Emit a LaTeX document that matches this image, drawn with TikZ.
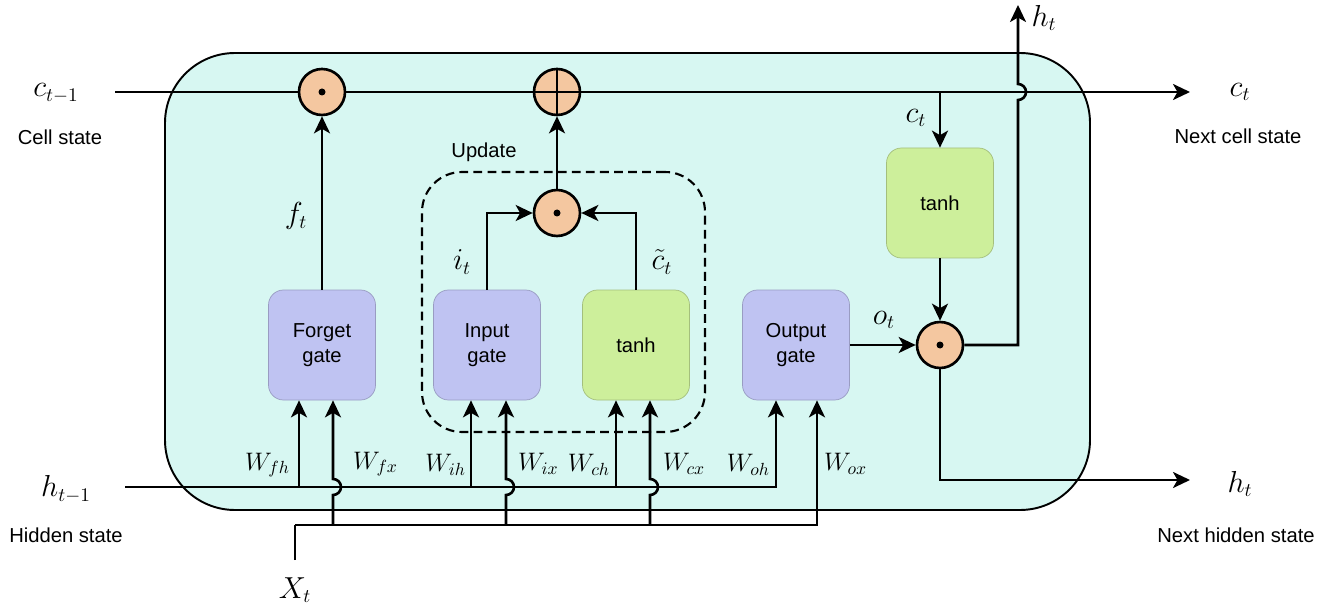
\documentclass[tikz,border=0pt]{standalone}
\usepackage{tikz}
\usetikzlibrary{arrows.meta, positioning}
\usepackage{fontspec}
\setmainfont{Liberation Sans}
\usepackage{xcolor}

\definecolor{cellfill}{HTML}{D7F7F2}
\definecolor{gatefill}{HTML}{BFC3F2}
\definecolor{tanhfill}{HTML}{CDEF9B}
\definecolor{opfill}{HTML}{F4C7A0}

\begin{document}
\begin{tikzpicture}[
    gate/.style={
        draw=gatefill!80!black,
        rectangle,
        rounded corners=0.3cm,
        minimum width=2.14cm,
        minimum height=2.2cm,
        fill=gatefill,
        align=center,
        font=\fontsize{11.5}{14}\selectfont
    },
    tanhbox/.style={
        gate,
        draw=tanhfill!80!black,
        fill=tanhfill
    },
    op/.style={
        circle,
        draw,
        line width=1.5pt,
        fill=opfill,
        minimum size=0.92cm
    },
    dotop/.style={
        op,
        path picture={\fill[black] (path picture bounding box.center) circle (0.07);}
    },
    plusop/.style={
        op,
        path picture={
            \draw[black, line width=1.5pt] (path picture bounding box.north) -- (path picture bounding box.south);
            \draw[black, line width=1.5pt] (path picture bounding box.west) -- (path picture bounding box.east);
        }
    },
    arrow/.style={
        -{Stealth[length=0.34cm, width=0.32cm, inset=0.09cm]},
        line width=1.5pt
    },
    line/.style={
        line width=1.5pt
    },
    lbl/.style={font=\fontsize{16}{19}\selectfont},
    wlbl/.style={font=\fontsize{14}{17}\selectfont, inner sep=1pt},
    txt/.style={font=\fontsize{11.5}{14}\selectfont},
    node distance=1cm and 0.9cm
]
\useasboundingbox (0,0) rectangle (26.64,12.26);

% Cell body
\draw[fill=cellfill, line width=1.1pt, rounded corners=1.4cm] (3.3,2.06) rectangle (21.8,11.2);
\node[draw, dashed, line width=1.2pt, dash pattern=on 5pt off 3pt, rounded corners=0.8cm,
      minimum width=5.66cm, minimum height=5.2cm] (update) at (11.27,6.22) {};
\node[txt] (updlbl) at (9.68,9.22) {Update};

% Gates
\node[gate] (forget) at (6.44,5.36) {Forget\\gate};
\node[gate] (ingate) at (9.74,5.36) {Input\\gate};
\node[tanhbox] (tanhin) at (12.72,5.36) {tanh};
\node[gate] (outgate) at (15.92,5.36) {Output\\gate};
\node[tanhbox] (tanhout) at (18.8,8.2) {tanh};

% Pointwise operations
\node[dotop] (fdot) at (6.44,10.42) {};
\node[plusop] (plus) at (11.14,10.42) {};
\node[dotop] (udot) at (11.14,8.0) {};
\node[dotop] (odot) at (18.8,5.36) {};

% End points
\coordinate (cstart) at (2.3,10.42);
\coordinate (cend) at (23.8,10.42);
\coordinate (hstart) at (2.5,2.52);
\coordinate (hend) at (23.8,2.66);
\coordinate (htop) at (20.36,12.16);
\coordinate (xin) at (5.9,1.06);
\coordinate (xbus) at (5.9,1.76);

% Cell state
\draw[line] (cstart) -- (fdot);
\draw[line] (fdot) -- (plus);
\draw[arrow] (plus) -- (cend);
\draw[arrow] (cend -| tanhout.north) -- (tanhout.north);

% Gate outputs
\draw[arrow] (forget) -- (fdot);
\draw[arrow] (ingate.north) |- (udot.west);
\draw[arrow] (tanhin.north) |- (udot.east);
\draw[arrow] (udot) -- (plus);
\draw[arrow] (tanhout) -- (odot);
\draw[arrow] (outgate) -- (odot);
\draw[arrow] (odot.south) |- (hend);
\draw[arrow] (odot.east) -| ([yshift=-0.16cm]htop |- cend) arc[start angle=-90, end angle=90, radius=0.16cm] -- (htop);

% Hidden state
\draw[arrow] (hstart) -| ([xshift=-0.4cm]outgate.south);
\draw[arrow] ([xshift=-0.46cm]forget.south |- hstart) -- ([xshift=-0.46cm]forget.south);
\draw[arrow] ([xshift=-0.32cm]ingate.south |- hstart) -- ([xshift=-0.32cm]ingate.south);
\draw[arrow] ([xshift=-0.4cm]tanhin.south |- hstart) -- ([xshift=-0.4cm]tanhin.south);

% Input x
\draw[line] (xin) -- (xbus);
\draw[arrow] (xbus) -| ([xshift=0.42cm]outgate.south);
\draw[arrow] ([xshift=0.22cm]forget.south |- xbus) -- ++(0,0.6) arc[start angle=-90, end angle=90, radius=0.16cm] -- ([xshift=0.22cm]forget.south);
\draw[arrow] ([xshift=0.38cm]ingate.south |- xbus) -- ++(0,0.6) arc[start angle=-90, end angle=90, radius=0.16cm] -- ([xshift=0.38cm]ingate.south);
\draw[arrow] ([xshift=0.28cm]tanhin.south |- xbus) -- ++(0,0.6) arc[start angle=-90, end angle=90, radius=0.16cm] -- ([xshift=0.28cm]tanhin.south);

% Labels
\node[lbl] (cprev) at (1.12,10.4) {$c_{t-1}$};
\node[txt] (cprevtxt) at (1.2,9.52) {Cell state};
\node[lbl] (hprev) at (1.32,2.48) {$h_{t-1}$};
\node[txt] (hprevtxt) at (1.32,1.56) {Hidden state};
\node[lbl] (cnext) at (24.8,10.42) {$c_t$};
\node[txt] (cnexttxt) at (24.76,9.54) {Next cell state};
\node[lbl] (hnext) at (24.8,2.58) {$h_t$};
\node[txt] (hnexttxt) at (24.72,1.56) {Next hidden state};
\node[lbl] (htoplbl) at (20.88,11.9) {$h_t$};
\node[lbl] (xlbl) at (5.9,0.46) {$X_t$};
\node[lbl] (flbl) at (5.92,7.94) {$f_t$};
\node[lbl] (ilbl) at (9.24,7.02) {$i_t$};
\node[lbl] (clbl) at (13.24,7.02) {$\tilde{c}_t$};
\node[lbl] (ctlbl) at (18.32,9.9) {$c_t$};
\node[lbl] (olbl) at (17.68,5.86) {$o_t$};
\node[wlbl, anchor=east] (wfh) at (5.84,2.96) {$W_{fh}$};
\node[wlbl, anchor=west] (wfx) at (7.02,2.98) {$W_{fx}$};
\node[wlbl, anchor=east] (wih) at (9.36,2.96) {$W_{ih}$};
\node[wlbl, anchor=west] (wix) at (10.32,2.98) {$W_{ix}$};
\node[wlbl, anchor=east] (wch) at (12.24,2.96) {$W_{ch}$};
\node[wlbl, anchor=west] (wcx) at (13.22,2.98) {$W_{cx}$};
\node[wlbl, anchor=east] (woh) at (15.44,2.96) {$W_{oh}$};
\node[wlbl, anchor=west] (wox) at (16.44,2.98) {$W_{ox}$};

\end{tikzpicture}
\end{document}
